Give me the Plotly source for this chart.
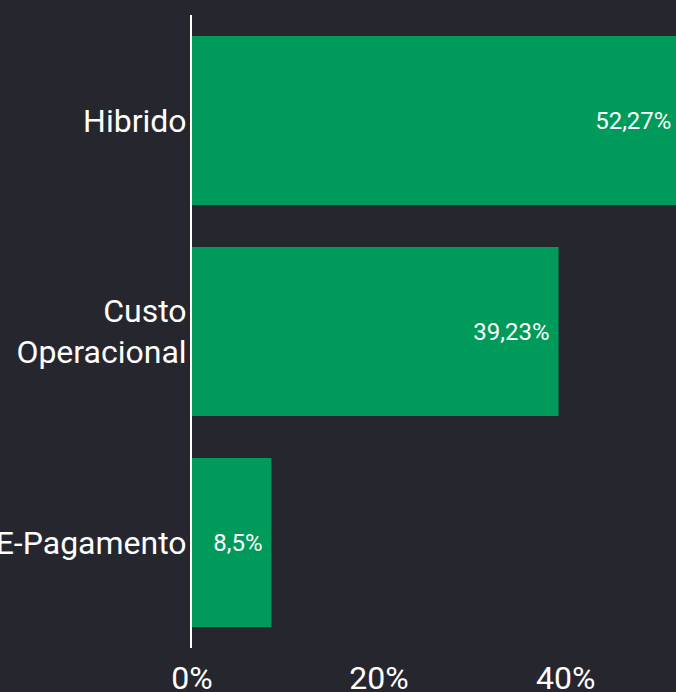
import plotly.graph_objects as go

categories = ["Hibrido", "Custo<br>Operacional", "E-Pagamento"]
values = [52.27, 39.23, 8.5]
labels = ["52,27%", "39,23%", "8,5%"]

BG = "#26262F"
GREEN = "#009A5B"

fig = go.Figure()
fig.add_trace(go.Bar(
    x=values,
    y=categories,
    orientation="h",
    text=labels,
    texttemplate="%{text}\u00a0",
    textposition="inside",
    insidetextanchor="end",
    textfont=dict(color="white", size=24, family="Roboto"),
    marker=dict(color=GREEN, line=dict(width=0)),
))
fig.update_layout(
    width=676,
    height=692,
    paper_bgcolor=BG,
    plot_bgcolor=BG,
    margin=dict(l=192, r=0, t=15, b=44),
    bargap=0.2,
    showlegend=False,
    font=dict(family="Roboto", color="white", size=32),
    xaxis=dict(
        range=[0, 51.8],
        tickvals=[0, 20, 40],
        ticktext=["0%", "20%", "40%"],
        showgrid=False,
        zeroline=False,
        showline=False,
        ticks="",
        ticklabelstandoff=8,
        automargin=False,
        tickfont=dict(size=32),
    ),
    yaxis=dict(
        autorange="reversed",
        showgrid=False,
        zeroline=False,
        showline=True,
        linecolor="white",
        linewidth=2,
        ticks="",
        ticklabelstandoff=-3,
        automargin=False,
        tickfont=dict(size=32),
    ),
)
fig.write_html(
    "out.html",
    config={"displayModeBar": False},
    post_script="document.body.style.margin='0';document.body.style.overflow='hidden';",
)
